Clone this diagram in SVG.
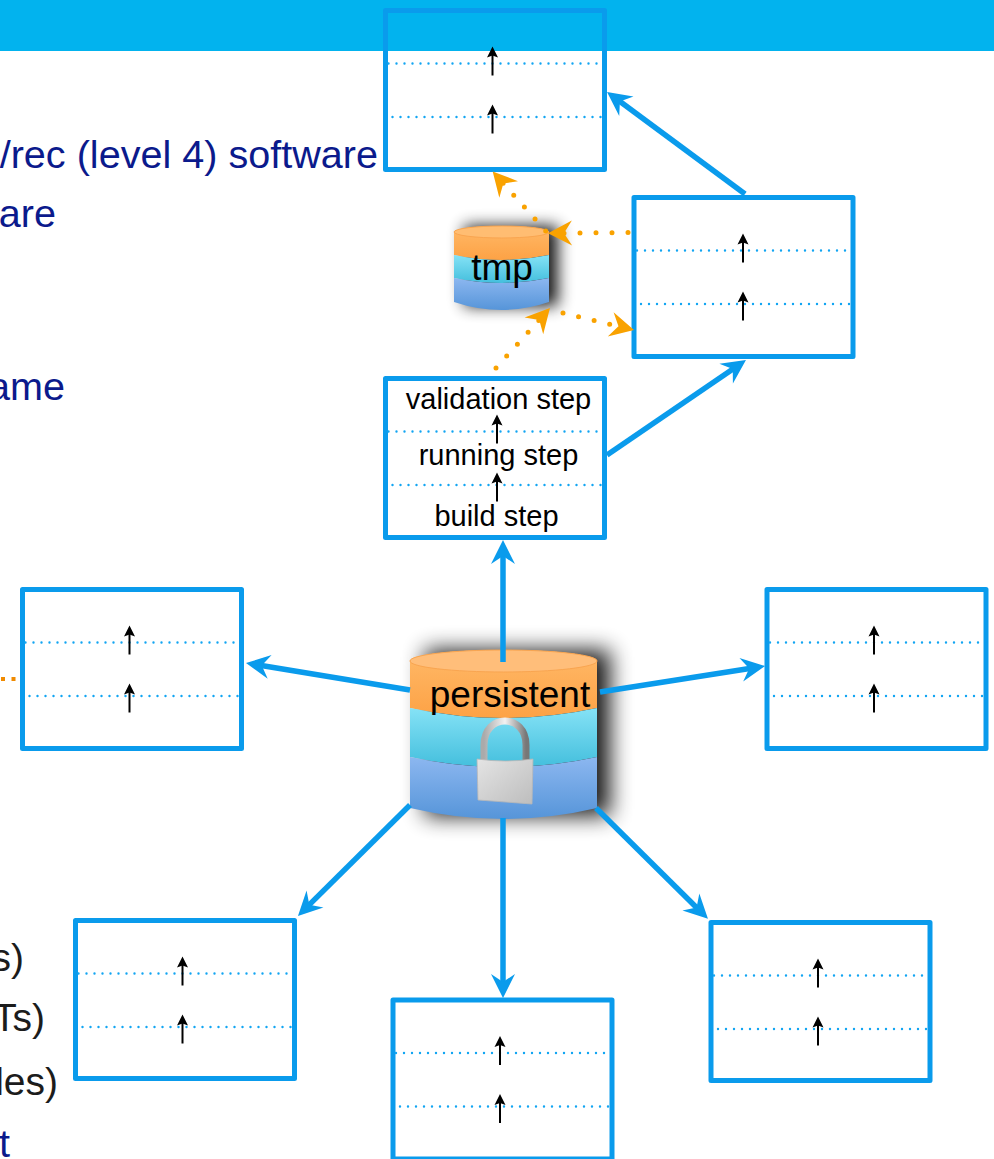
<svg xmlns="http://www.w3.org/2000/svg" width="994" height="1159" viewBox="0 0 994 1159">
<style>
text{font-family:"Liberation Sans",Arial,sans-serif}
.nv{fill:#0b1a8c;font-size:39.600px;text-anchor:end}
.bk{fill:#1c1c1c;font-size:39px;text-anchor:end}
.box{fill:none;stroke:#0a9bec;stroke-width:5;stroke-linejoin:round}
.dot{stroke:#12a5f2;stroke-width:2.400;stroke-linecap:round;stroke-dasharray:0 8;fill:none}
.up{stroke:#000;stroke-width:2;fill:none;marker-end:url(#ah)}
.conn{stroke:#0a9bec;stroke-width:5.500;fill:none;marker-end:url(#blue)}
.odot{stroke:#f9a200;stroke-width:5;stroke-linecap:round;stroke-dasharray:0 16;fill:none;marker-end:url(#orange)}
.lbl{font-size:29px;fill:#000;text-anchor:middle}
.cyl{font-size:37px;fill:#000;text-anchor:middle}
</style>
<defs>
<marker id="blue" markerUnits="userSpaceOnUse" markerWidth="42" markerHeight="30" viewBox="-12 -15 42 30" refX="0" refY="0" orient="auto"><path d="M14,0 L-10,-12 L-2,0 L-10,12Z" fill="#0a9bec"/></marker>
<marker id="orange" markerUnits="userSpaceOnUse" markerWidth="42" markerHeight="30" viewBox="-12 -15 42 30" refX="0" refY="0" orient="auto"><path d="M14,0 L-10,-12.500 L-2,0 L-10,12.500Z" fill="#f9a200"/></marker>
<marker id="ah" markerUnits="userSpaceOnUse" markerWidth="16" markerHeight="16" viewBox="-8 -8 16 16" refX="0" refY="0" orient="auto"><path d="M6,0 L-5,-5.500 L-3,0 L-5,5.500Z" fill="#000"/></marker>
<linearGradient id="o" x1="0" y1="0" x2="0" y2="1"><stop offset="0" stop-color="#ffb968"/><stop offset="1" stop-color="#fda245"/></linearGradient>
<linearGradient id="c" x1="0" y1="0" x2="0" y2="1"><stop offset="0" stop-color="#85e2f6"/><stop offset="1" stop-color="#44bfdd"/></linearGradient>
<linearGradient id="b" x1="0" y1="0" x2="0" y2="1"><stop offset="0" stop-color="#8cb7f0"/><stop offset="1" stop-color="#5695d9"/></linearGradient>
<linearGradient id="body" x1="0" y1="0" x2="1" y2="1"><stop offset="0" stop-color="#e4e4e4"/><stop offset="1" stop-color="#bdbdbd"/></linearGradient>
<linearGradient id="sh" x1="0" y1="0" x2="1" y2="0"><stop offset="0" stop-color="#aaa"/><stop offset=".5" stop-color="#f2f2f2"/><stop offset="1" stop-color="#777"/></linearGradient>
<filter id="blur" x="-40%" y="-40%" width="180%" height="180%"><feGaussianBlur stdDeviation="8"/></filter>
<filter id="blur2" x="-40%" y="-40%" width="180%" height="180%"><feGaussianBlur stdDeviation="11"/></filter>
<g id="slots">
<path class="dot" d="M3,53H212"/><path class="dot" d="M7,106.500H219"/>
<path class="up" d="M107,65V42"/><path class="up" d="M107,123V100"/>
</g>
</defs>
<rect id="banner" x="0" y="0" width="994" height="51" fill="#02b3ee"/>
<g id="page-text">
<text class="nv" x="378" y="168">/rec (level 4) software</text>
<text class="nv" x="56" y="227">are</text>
<text class="nv" x="65" y="400">ame</text>
<text class="bk" x="24" y="971">s)</text>
<text class="bk" x="45" y="1031">Ts)</text>
<text class="bk" x="58" y="1095">les)</text>
<text class="nv" x="10" y="1157">t</text>
<path d="M1,679H16" stroke="#f08a00" stroke-width="4" stroke-dasharray="4 6.500" fill="none"/>
</g>
<g id="box-top" transform="translate(385.500,10.500)"><rect class="box" width="219" height="159"/><use href="#slots"/></g>
<g id="box-side" transform="translate(634,197.500)"><rect class="box" width="219" height="159"/><path class="dot" d="M3,53H212"/><path class="dot" d="M7,106.500H219"/><path class="up" d="M109,65V42"/><path class="up" d="M109,123V100"/></g>
<g id="box-steps" transform="translate(385.500,378.500)"><rect class="box" width="219" height="159"/>
<path class="dot" d="M3,53H212"/><path class="dot" d="M7,106.500H219"/><path class="up" d="M111.500,65V42"/><path class="up" d="M111.500,123V100"/>
<text class="lbl" x="113" y="30">validation step</text><text class="lbl" x="113" y="86">running step</text><text class="lbl" x="111" y="147">build step</text></g>
<g id="box-left" transform="translate(22.500,589.500)"><rect class="box" width="219" height="159"/><use href="#slots"/></g>
<g id="box-right" transform="translate(767,589.500)"><rect class="box" width="219" height="159"/><use href="#slots"/></g>
<g id="box-bl" transform="translate(75.500,920.500)"><rect class="box" width="219" height="158"/><use href="#slots"/></g>
<g id="box-bm" transform="translate(393,1000)"><rect class="box" width="219" height="159"/><use href="#slots"/></g>
<g id="box-br" transform="translate(711,922.500)"><rect class="box" width="219" height="158"/><use href="#slots"/></g>
<g id="tmp">
<path d="M464,226 H558 V306 H464Z" fill="#000" opacity=".9" filter="url(#blur)"/>
<path d="M454,232 a47.500,6 0 0 1 95,0 V255 q-47.500,10 -95,0Z" fill="url(#o)"/>
<path d="M454,255 q47.500,10 95,0 V278 q-47.500,10 -95,0Z" fill="url(#c)"/>
<path d="M454,278 q47.500,10 95,0 V302 q-47.500,16 -95,0Z" fill="url(#b)"/>
<ellipse cx="501.500" cy="232" rx="47.500" ry="6" fill="#ffbd72" stroke="#f9a550"/>
<text class="cyl" x="502" y="280">tmp</text>
</g>
<g id="persistent">
<path d="M425,650 H610 V816 H425Z" fill="#000" opacity=".9" filter="url(#blur2)"/>
<path d="M410,661 a93.500,11 0 0 1 187,0 V708 q-93.500,20 -187,0Z" fill="url(#o)"/>
<path d="M410,708 q93.500,20 187,0 V757 q-93.500,20 -187,0Z" fill="url(#c)"/>
<path d="M410,757 q93.500,20 187,0 V808 q-93.500,22 -187,0Z" fill="url(#b)"/>
<ellipse cx="503.500" cy="661" rx="93.500" ry="11" fill="#ffbe7a" stroke="#f9a550"/>
<text class="cyl" x="510" y="707">persistent</text>
<g id="lock">
<path d="M484,760 V745 C484,713 526,713 526,745 V762" fill="none" stroke="url(#sh)" stroke-width="7"/>
<path d="M477,759 Q505,763 533,759 L532,804 L478,800Z" fill="url(#body)" stroke="#b8b8b8" stroke-width=".8"/>
</g>
</g>
<g id="connectors">
<path class="conn" d="M503,662V554"/>
<path class="conn" d="M410,690L259.800,665.300"/>
<path class="conn" d="M600,692L751.200,668.200"/>
<path class="conn" d="M410,805L307.900,906.100"/>
<path class="conn" d="M503,818V984"/>
<path class="conn" d="M596,808L698,909"/>
<path class="conn" d="M607,455L734.400,367.900"/>
<path class="conn" d="M745,194L618.300,100.300"/>
<path class="odot" d="M496,368L540.600,318.400"/>
<path class="odot" d="M563,313L620.400,326.800"/>
<path class="odot" d="M628,232.500L562,233.200"/>
<path class="odot" d="M545.700,231L502,182"/>
</g>
</svg>
